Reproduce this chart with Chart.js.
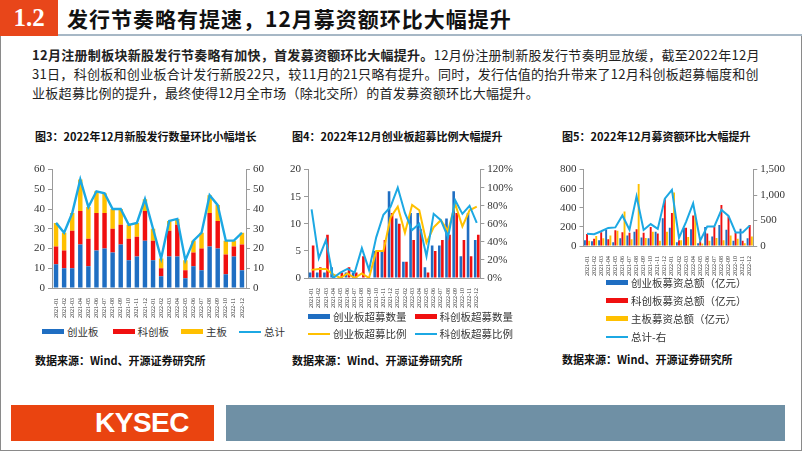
<!DOCTYPE html>
<html><head><meta charset="utf-8">
<script src="https://cdn.jsdelivr.net/npm/chart.js@4.4.0/dist/chart.umd.min.js"></script>
<style>
html,body{margin:0;padding:0;background:#fff;}
body{width:802px;height:452px;position:relative;overflow:hidden;font-family:'Noto Sans CJK SC',sans-serif;color:#222;}
.abs{position:absolute;}
.frame{left:0;top:34px;width:800px;height:416px;border:1px solid #8a8a8a;border-top:none;}
.hbox{left:0;top:0;width:58px;height:36px;background:#E8461A;color:#fff;font-family:'Liberation Serif',serif;font-weight:bold;font-size:25px;line-height:36px;text-align:center;}
.hline{left:58px;top:34px;width:744px;height:2px;background:#A7B8C6;}
.title{left:67px;top:2px;font-size:21px;font-weight:bold;line-height:32px;color:#111;letter-spacing:1px;}
.para{left:32px;font-size:13px;line-height:16px;color:#222;white-space:nowrap;letter-spacing:0.3px;}
.ctitle{font-size:11px;font-weight:bold;white-space:nowrap;color:#111;}
.src{font-size:11px;font-weight:bold;white-space:nowrap;color:#111;}
.leg{font-size:10.5px;white-space:nowrap;color:#333;display:flex;align-items:center;}
.sw{display:inline-block;width:22px;height:5px;margin-right:3px;}
.ln{display:inline-block;width:22px;height:2px;margin-right:3px;}
canvas{position:absolute;}
</style></head>
<body>
<div class="abs frame"></div>
<div class="abs hbox">1.2</div>
<div class="abs hline"></div>
<div class="abs title">发行节奏略有提速，12月募资额环比大幅提升</div>
<div class="abs para" style="top:47px;"><b>12月注册制板块新股发行节奏略有加快，首发募资额环比大幅提升。</b>12月份注册制新股发行节奏明显放缓，截至2022年12月</div>
<div class="abs para" style="top:66px;">31日，科创板和创业板合计发行新股22只，较11月的21只略有提升。同时，发行估值的抬升带来了12月科创板超募幅度和创</div>
<div class="abs para" style="top:85px;">业板超募比例的提升，最终使得12月全市场（除北交所）的首发募资额环比大幅提升。</div>

<div class="abs ctitle" style="left:35px;top:128px;">图3：2022年12月新股发行数量环比小幅增长</div>
<div class="abs ctitle" style="left:292px;top:128px;">图4：2022年12月创业板超募比例大幅提升</div>
<div class="abs ctitle" style="left:562px;top:128px;">图5：2022年12月募资额环比大幅提升</div>

<canvas id="c1" width="236" height="160" style="left:31px;top:160px;"></canvas>
<canvas id="c2" width="229" height="150" style="left:287px;top:160px;"></canvas>
<canvas id="c3" width="231" height="118" style="left:557px;top:160px;"></canvas>

<div class="abs leg" style="left:42px;top:324px;"><span class="sw" style="background:#1F6EC2"></span>创业板<span style="width:14px"></span><span class="sw" style="background:#F01010"></span>科创板<span style="width:12px"></span><span class="sw" style="background:#FFC000"></span>主板<span style="width:12px"></span><span class="ln" style="background:#1CA8E3"></span>总计</div>

<div class="abs leg" style="left:308px;top:309px;"><span class="sw" style="background:#1F6EC2"></span>创业板超募数量<span style="width:8px"></span><span class="sw" style="background:#F01010"></span>科创板超募数量</div>
<div class="abs leg" style="left:308px;top:326px;"><span class="ln" style="background:#FFC000"></span>创业板超募比例<span style="width:8px"></span><span class="ln" style="background:#1CA8E3"></span>科创板超募比例</div>

<div class="abs leg" style="left:606px;top:275px;"><span class="sw" style="background:#1F6EC2"></span>创业板募资总额（亿元）</div>
<div class="abs leg" style="left:606px;top:293px;"><span class="sw" style="background:#F01010"></span>科创板募资总额（亿元）</div>
<div class="abs leg" style="left:606px;top:311px;"><span class="sw" style="background:#FFC000"></span>主板募资总额（亿元）</div>
<div class="abs leg" style="left:606px;top:329px;"><span class="ln" style="background:#1CA8E3"></span>总计-右</div>

<div class="abs src" style="left:35px;top:352px;">数据来源：Wind、开源证券研究所</div>
<div class="abs src" style="left:292px;top:352px;">数据来源：Wind、开源证券研究所</div>
<div class="abs src" style="left:562px;top:351px;">数据来源：Wind、开源证券研究所</div>

<div class="abs" style="left:11px;top:405px;width:203px;height:36px;background:#EA4410;"></div>
<div class="abs" style="left:95px;top:404px;height:38px;line-height:38px;color:#fff;font-family:'Liberation Sans',Arial,sans-serif;font-weight:bold;font-size:28px;letter-spacing:-0.5px;">KYSEC</div>
<div class="abs" style="left:226px;top:405px;width:559px;height:36px;background:#6F90A5;"></div>

<script>
// ---- data ----
const months = ['2021-01','2021-02','2021-03','2021-04','2021-05','2021-06','2021-07','2021-08','2021-09','2021-10','2021-11','2021-12',
                '2022-01','2022-02','2022-03','2022-04','2022-05','2022-06','2022-07','2022-08','2022-09','2022-10','2022-11','2022-12'];
// Fig 3: number of IPOs
const cyNum   = [12,10,10,22,11,19,20,18,22,14,16,24,14,6,16,16,5,11,9,21,20,7,16,9];
const kcNum   = [9,9,19,17,14,19,18,12,10,11,10,15,10,4,13,16,4,7,11,17,14,10,5,13];
const zbNum   = [12,9,9,16,16,11,10,10,8,7,7,6,6,5,5,3,5,6,8,9,8,7,3,6];
const totNum  = [33,28,38,55,41,49,48,40,40,32,33,45,30,15,34,35,14,24,28,47,42,24,24,28];
// Fig 4: over-raising count and ratio
const cyOver  = [1,1,1,2,0,1,1,0,0,5,5,16,11,3,12,12,2,6,6,11,16,4,12,7];
const kcOver  = [6,2,8,0,1,2,1,4,0,5,7,12,10,3,7,9,1,5,7,8,12,7,4,8];
const cyRatio = [0.09,0.10,0.10,0.04,0.00,0.05,0.00,0.05,0.00,0.30,0.30,0.67,0.79,0.50,0.81,0.75,0.39,0.56,0.64,0.52,0.82,0.57,0.75,0.79];
const kcRatio = [0.76,0.22,0.42,0.00,0.06,0.10,0.06,0.33,0.09,0.45,0.70,0.79,1.00,0.72,0.53,0.60,0.24,0.71,0.64,0.45,0.86,0.71,0.80,0.61];
// Fig 5: amount raised (100m CNY)
const cyAmt   = [60,50,60,170,40,80,110,150,90,80,150,290,190,40,190,175,30,200,100,220,170,55,180,80];
const kcAmt   = [125,75,145,70,165,145,140,175,140,200,130,490,345,60,190,320,50,130,200,430,310,135,55,220];
const zbAmt   = [55,105,80,110,160,360,70,650,85,150,55,150,560,60,95,340,25,55,85,60,110,75,30,100];
const totAmt  = [240,230,290,355,365,600,320,975,315,430,335,930,1100,160,475,835,105,385,385,710,590,265,265,400];
const ticks3L = [0,200,400,600,800];
const ticks3R = [0,500,1000,1500];

// ---- styling ----
const BLUE='#1F6EC2', RED='#F01010', YEL='#FFC000', LBLUE='#1CA8E3', AX='#9a9a9a';
const serif="'Liberation Serif','Times New Roman',serif";
Chart.defaults.font.family=serif;
Chart.defaults.color='#333';
const base={responsive:false,animation:false,events:[],plugins:{legend:{display:false},tooltip:{enabled:false}}};
function xAxis(stacked,pad){return {stacked:stacked,grid:{display:false},border:{color:AX},
  ticks:{font:{size:6},minRotation:90,maxRotation:90,autoSkip:false,padding:pad}};}
function yAxis(pos,min,max,step,size,cb,stacked){return {position:pos,stacked:!!stacked,min:min,max:max,
  grid:{drawOnChartArea:false,drawTicks:true,tickLength:4,color:AX},border:{color:AX},
  ticks:{stepSize:step,font:{size:size},padding:3,callback:cb}};}

// Fig 3
new Chart(document.getElementById('c1'),{type:'bar',data:{labels:months,datasets:[
  {type:'line',label:'总计',data:totNum,borderColor:LBLUE,borderWidth:2.4,pointRadius:0,yAxisID:'y2',order:0,tension:0},
  {label:'创业板',data:cyNum,backgroundColor:BLUE,yAxisID:'y',order:1,barPercentage:0.55,categoryPercentage:1},
  {label:'科创板',data:kcNum,backgroundColor:RED,yAxisID:'y',order:1,barPercentage:0.55,categoryPercentage:1},
  {label:'主板',data:zbNum,backgroundColor:YEL,yAxisID:'y',order:1,barPercentage:0.55,categoryPercentage:1}
]},options:Object.assign({},base,{layout:{padding:{top:6,right:0,left:0,bottom:0}},scales:{
  x:xAxis(true,2),
  y:yAxis('left',0,60,10,11,v=>v,true),
  y2:yAxis('right',0,60,10,11,v=>v,false)
}})});

// Fig 4
new Chart(document.getElementById('c2'),{type:'bar',data:{labels:months,datasets:[
  {type:'line',label:'科创板超募比例',data:kcRatio,borderColor:LBLUE,borderWidth:2,pointRadius:0,yAxisID:'y2',order:0},
  {type:'line',label:'创业板超募比例',data:cyRatio,borderColor:YEL,borderWidth:2,pointRadius:0,yAxisID:'y2',order:0},
  {label:'创业板超募数量',data:cyOver,backgroundColor:BLUE,yAxisID:'y',order:1,barPercentage:0.85,categoryPercentage:0.85},
  {label:'科创板超募数量',data:kcOver,backgroundColor:RED,yAxisID:'y',order:1,barPercentage:0.85,categoryPercentage:0.85}
]},options:Object.assign({},base,{layout:{padding:{top:6,right:0,left:0,bottom:0}},scales:{
  x:xAxis(false,2),
  y:yAxis('left',0,20,5,11,v=>v),
  y2:yAxis('right',0,1.2,0.2,11,v=>Math.round(v*100)+'%')
}})});

// Fig 5
new Chart(document.getElementById('c3'),{type:'bar',data:{labels:months,datasets:[
  {type:'line',label:'总计-右',data:totAmt,borderColor:LBLUE,borderWidth:2,pointRadius:0,yAxisID:'y2',order:0},
  {label:'创业板募资总额（亿元）',data:cyAmt,backgroundColor:BLUE,yAxisID:'y',order:1,barPercentage:0.9,categoryPercentage:0.9},
  {label:'科创板募资总额（亿元）',data:kcAmt,backgroundColor:RED,yAxisID:'y',order:1,barPercentage:0.9,categoryPercentage:0.9},
  {label:'主板募资总额（亿元）',data:zbAmt,backgroundColor:YEL,yAxisID:'y',order:1,barPercentage:0.9,categoryPercentage:0.9}
]},options:Object.assign({},base,{layout:{padding:{top:6,right:0,left:0,bottom:0}},scales:{
  x:xAxis(false,2),
  y:Object.assign(yAxis('left',0,800,200,11,v=>v),{afterBuildTicks:a=>{a.ticks=ticks3L.map(v=>({value:v}));}}),
  y2:Object.assign(yAxis('right',0,1500,500,11,v=>v.toLocaleString('en-US')),{afterBuildTicks:a=>{a.ticks=ticks3R.map(v=>({value:v}));}})
}})});
</script>
</body></html>
